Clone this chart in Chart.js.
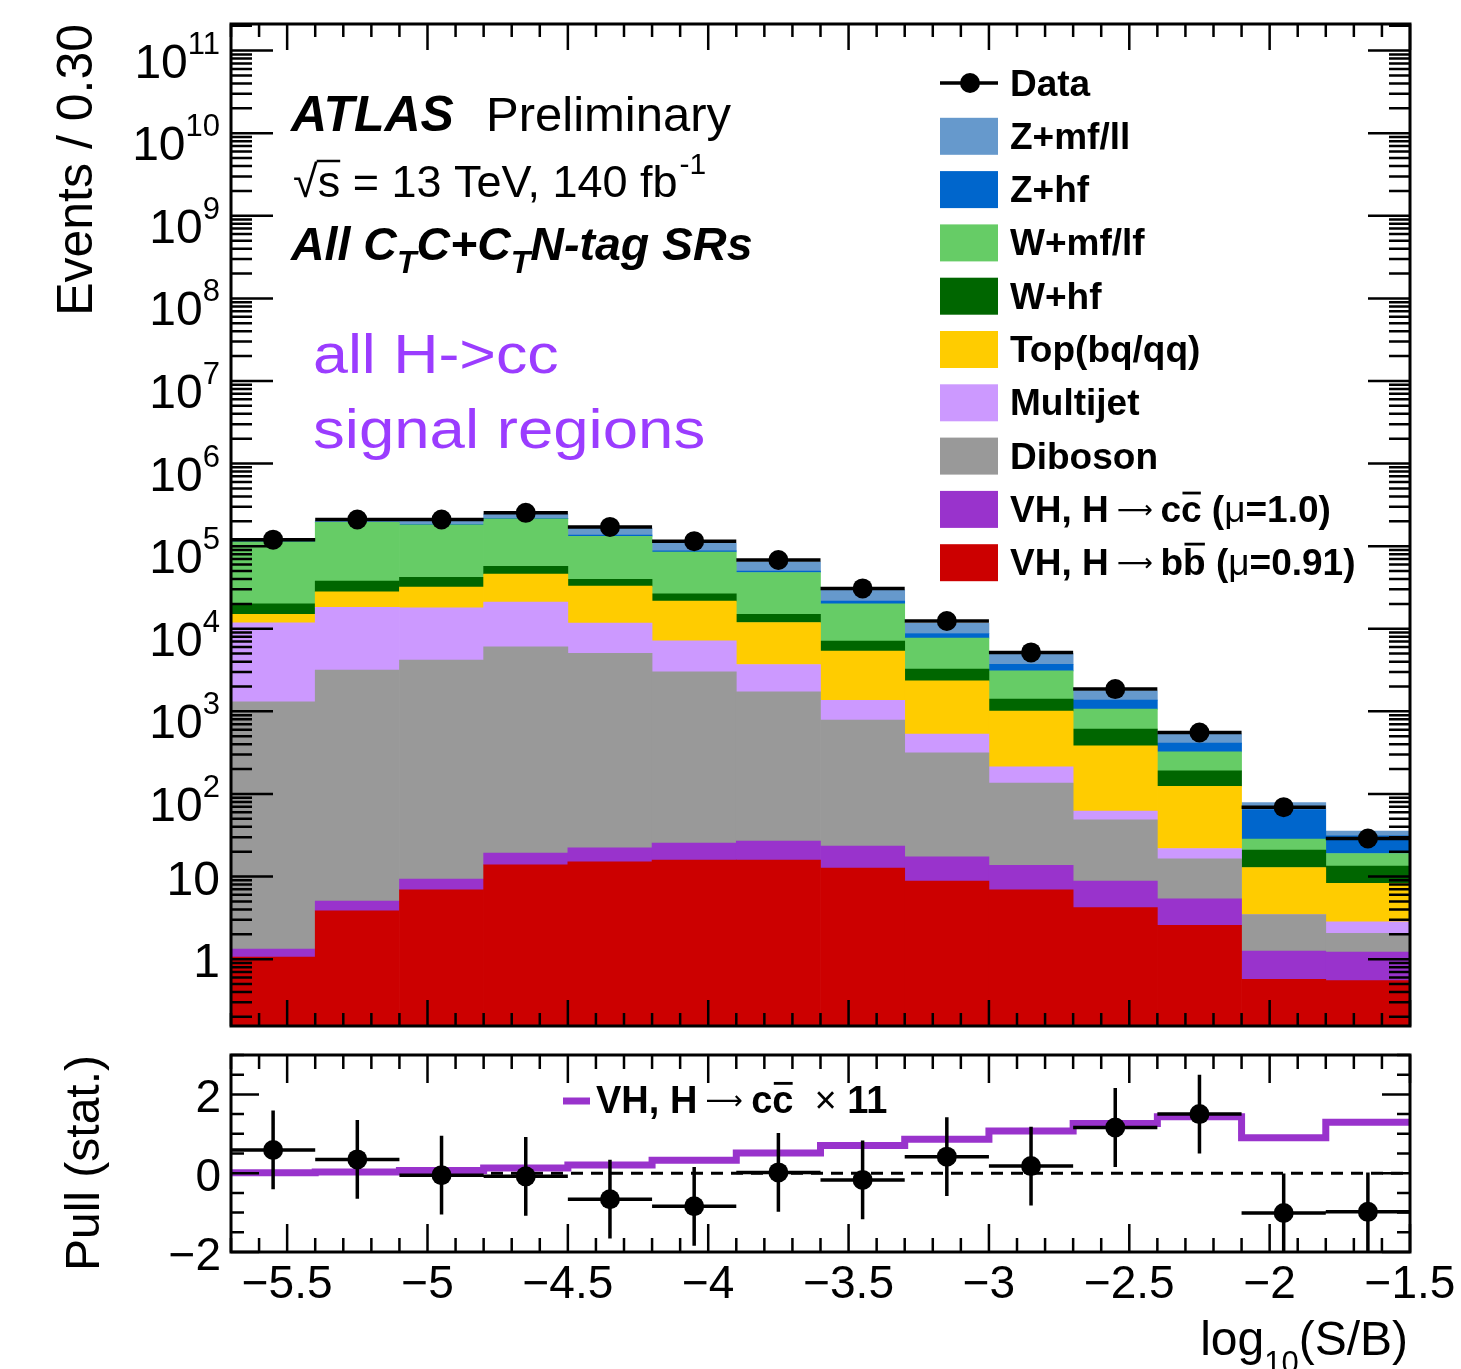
<!DOCTYPE html>
<html><head><meta charset="utf-8">
<script src="https://cdn.jsdelivr.net/npm/chart.js@4.4.1/dist/chart.umd.min.js"></script>
<style>
html,body{margin:0;padding:0;background:#fff;}
#wrap{position:relative;width:1461px;height:1369px;overflow:hidden;background:#fff;}
canvas{position:absolute;left:0;}
#top{top:0;}
#pull{top:1040px;}
</style></head>
<body><div id="wrap"><canvas id="top" width="1461" height="1040"></canvas><canvas id="pull" width="1461" height="329"></canvas></div>
<script>
const F = "'Liberation Sans', Arial, Helvetica, sans-serif";
const FA = "'DejaVu Sans', 'Liberation Sans', sans-serif";

// ---------- data ----------
const binEdges   = [-5.7,-5.4,-5.1,-4.8,-4.5,-4.2,-3.9,-3.6,-3.3,-3.0,-2.7,-2.4,-2.1,-1.8,-1.5];
const binCenters = [-5.55,-5.25,-4.95,-4.65,-4.35,-4.05,-3.75,-3.45,-3.15,-2.85,-2.55,-2.25,-1.95,-1.65];

const vhbb     = [1.06, 3.85, 6.9, 13.9, 15.1, 15.8, 15.8, 12.7, 8.8, 6.9, 4.2, 2.56, 0.57, 0.55];
const vhcc     = [0.26, 1.19, 2.4, 5.3, 7.2, 9.6, 11.0, 10.6, 8.5, 6.8, 4.6, 2.81, 0.68, 0.67];
const diboson  = [1300, 3165, 4160, 6020, 5008, 2975, 1693, 759, 298, 122, 39.8, 11.0, 2.22, 0.83];
const multijet = [10500, 15030, 13730, 14960, 6670, 4140, 1970, 573, 215, 77, 13.4, 5.5, 0, 0.78];
const topq     = [3200, 9800, 14100, 25000, 21100, 14460, 8210, 3995, 1810, 792, 320, 102, 9.4, 5.42];
const whf      = [5000, 9700, 9800, 11000, 7000, 4900, 3100, 1730, 900, 400, 227, 66, 8.0, 5.15];
const wmflf    = [93000, 156300, 139200, 157000, 92200, 58500, 33000, 12920, 4450, 1685, 454, 133, 7.5, 5.6];
const zhf      = [500, 2000, 3000, 4000, 4000, 3000, 1800, 1600, 1080, 630, 304, 89, 36.5, 12.1];
const zmfll    = [2000, 7000, 23000, 26000, 28000, 20000, 14800, 7700, 2830, 1300, 403, 118, 14.0, 4.3];

const dataEvents = [120000, 210000, 210000, 253000, 171000, 115000, 68000, 30800, 12400, 5170, 1860, 555, 69.2, 28.9];

const pullValues    = [0.59, 0.35, -0.05, -0.08, -0.66, -0.84, 0.02, -0.17, 0.42, 0.18, 1.16, 1.50, -1.01, -0.98];
const signalPullX11 = [0.01, 0.03, 0.07, 0.13, 0.21, 0.33, 0.51, 0.70, 0.86, 1.07, 1.26, 1.43, 0.90, 1.29];

const stackSeries = [vhbb, vhcc, diboson, multijet, topq, whf, wmflf, zhf, zmfll];
const stackLabels = ['VH, H → bb̄ (μ=0.91)','VH, H → cc̄ (μ=1.0)','Diboson','Multijet','Top(bq/qq)','W+hf','W+mf/lf','Z+hf','Z+mf/ll'];
const stackColors = ['#cc0000','#9933cc','#999999','#cc99ff','#ffcc00','#006600','#66cc66','#0066cc','#6699cc'];

// ---------- ticks ----------
const xTickValues = [-5.5,-5,-4.5,-4,-3.5,-3,-2.5,-2,-1.5];
const xTickLabels = ['−5.5','−5','−4.5','−4','−3.5','−3','−2.5','−2','−1.5'];
const yTickValues = [1,10,1e2,1e3,1e4,1e5,1e6,1e7,1e8,1e9,1e10,1e11];
const yTickBase   = ['1','10','10','10','10','10','10','10','10','10','10','10'];
const yTickExp    = ['','','2','3','4','5','6','7','8','9','10','11'];
const pullTickValues = [-2,0,2];
const pullTickLabels = ['−2','0','2'];

// ---------- helpers ----------
function minorLinear(a, b, step){ const out=[]; const n=Math.round((b-a)/step); for(let i=0;i<=n;i++) out.push(+(a+i*step).toFixed(6)); return out; }
function minorLog(min, max){ const out=[]; for(let e=-2;e<=12;e++){ for(let m=2;m<=9;m++){ const v=m*Math.pow(10,e); if(v>min&&v<max) out.push(v);} } return out; }

function drawFrameTicks(chart, cfg){
  const {ctx, chartArea:{left,right,top,bottom}, scales:{x,y}} = chart;
  ctx.save();
  ctx.strokeStyle='#000'; ctx.lineCap='butt'; ctx.lineWidth=2.5;
  ctx.beginPath();
  const xt = (v,L)=>{ const p=x.getPixelForValue(v); if(p<left-0.5||p>right+0.5) return; ctx.moveTo(p,bottom); ctx.lineTo(p,bottom-L); ctx.moveTo(p,top); ctx.lineTo(p,top+L); };
  const yt = (v,L)=>{ const p=y.getPixelForValue(v); if(p<top-0.5||p>bottom+0.5) return; ctx.moveTo(left,p); ctx.lineTo(left+L,p); ctx.moveTo(right,p); ctx.lineTo(right-L,p); };
  cfg.xMinor.forEach(v=>xt(v,cfg.xMinL)); cfg.xMajor.forEach(v=>xt(v,cfg.xMajL));
  cfg.yMinor.forEach(v=>yt(v,cfg.yMinL)); cfg.yMajor.forEach(v=>yt(v,cfg.yMajL));
  ctx.stroke();
  ctx.lineWidth=3;
  ctx.strokeRect(left,top,right-left,bottom-top);
  ctx.restore();
}

function rich(ctx, segs, x, y, size, color){
  ctx.save(); ctx.fillStyle=color||'#000'; ctx.strokeStyle=color||'#000'; ctx.textAlign='left'; ctx.textBaseline='alphabetic';
  let cx=x;
  for(const s of segs){
    const sz = s.size||size;
    ctx.font = `${s.it?'italic ':''}${s.reg?'':'bold '}${sz}px ${s.fam||F}`;
    const dy = s.dy||0;
    ctx.fillText(s.t, cx, y+dy);
    const w = ctx.measureText(s.t).width;
    if(s.over){ ctx.lineWidth=Math.max(2,sz*0.075); ctx.beginPath(); const oy=y+dy-sz*(s.overH||0.80); ctx.moveTo(cx+sz*0.04,oy); ctx.lineTo(cx+w-sz*0.02,oy); ctx.stroke(); }
    cx += w;
  }
  ctx.restore();
  return cx-x;
}

// ---------- top panel ----------
let running = vhbb.map(()=>0);
const stackDatasets = stackSeries.map((arr,k)=>{
  const data = arr.map((v,i)=>{ const lo=running[i]; const hi=lo+v; running[i]=hi; return {x:binCenters[i], y:[Math.max(lo,0.1), Math.max(hi,0.1)]}; });
  return {type:'bar', label:stackLabels[k], data, backgroundColor:stackColors[k], borderWidth:0, grouped:false, barPercentage:1, categoryPercentage:1, order:5};
});

const topDecor = {
  id:'topDecor',
  afterDatasetsDraw(chart){
    const {ctx, scales:{x,y}} = chart;
    ctx.save(); ctx.strokeStyle='#000'; ctx.lineWidth=3.5; ctx.beginPath();
    binCenters.forEach((c,i)=>{
      const v=dataEvents[i], e=Math.sqrt(v), py=y.getPixelForValue(v), px=x.getPixelForValue(c);
      ctx.moveTo(x.getPixelForValue(binEdges[i]),py); ctx.lineTo(x.getPixelForValue(binEdges[i+1]),py);
      ctx.moveTo(px,y.getPixelForValue(v+e)); ctx.lineTo(px,y.getPixelForValue(v-e));
    });
    ctx.stroke(); ctx.restore();
  },
  afterDraw(chart){
    const {ctx, scales:{y}} = chart;
    drawFrameTicks(chart,{xMajor:xTickValues, xMinor:minorLinear(-5.7,-1.5,0.1), xMajL:26, xMinL:13,
      yMajor:[0.1].concat(yTickValues), yMinor:minorLog(y.min,y.max), yMajL:42, yMinL:21});
    // y tick labels with superscripts
    ctx.save(); ctx.fillStyle='#000'; ctx.textBaseline='alphabetic'; ctx.textAlign='left';
    yTickValues.forEach((v,i)=>{
      const py=y.getPixelForValue(v), ex=yTickExp[i];
      ctx.font=`48px ${F}`; const bw=ctx.measureText(yTickBase[i]).width;
      let ew=0; if(ex){ ctx.font=`31px ${F}`; ew=ctx.measureText(ex).width; }
      const x0=220-ew-bw;
      ctx.font=`48px ${F}`; ctx.fillText(yTickBase[i], x0, py+(ex?27:18));
      if(ex){ ctx.font=`31px ${F}`; ctx.fillText(ex, x0+bw, py+3); }
    });
    ctx.restore();
    // ATLAS labels
    ctx.save(); ctx.fillStyle='#000'; ctx.textBaseline='alphabetic'; ctx.textAlign='left';
    ctx.font=`italic bold 50px ${F}`; ctx.fillText('ATLAS',291,131);
    ctx.font=`49px ${F}`; ctx.fillText('Preliminary',486,131);
    ctx.font=`45px ${F}`;
    ctx.fillText('√',293,197); const wr=ctx.measureText('√').width;
    const ws=ctx.measureText('s').width;
    ctx.fillText('s = 13 TeV, 140 fb',293+wr,197); const w2=ctx.measureText('s = 13 TeV, 140 fb').width;
    ctx.lineWidth=2.5; ctx.beginPath(); ctx.moveTo(293+wr-1,161); ctx.lineTo(293+wr+ws,161); ctx.stroke();
    ctx.font=`30px ${F}`; ctx.fillText('-1',293+wr+w2+2,174);
    ctx.restore();
    rich(ctx,[{t:'All C',it:1},{t:'T',it:1,size:32,dy:13},{t:'C+C',it:1},{t:'T',it:1,size:32,dy:13},{t:'N-tag SRs',it:1}],291,260,46.5,'#000');
    // purple annotation
    ctx.save(); ctx.fillStyle='#9b3cff'; ctx.font=`56px ${F}`; ctx.textBaseline='alphabetic';
    ctx.translate(313,373); ctx.scale(1.12,1); ctx.fillText('all H->cc',0,0); ctx.restore();
    ctx.save(); ctx.fillStyle='#9b3cff'; ctx.font=`56px ${F}`; ctx.textBaseline='alphabetic';
    ctx.translate(313,448); ctx.scale(1.135,1); ctx.fillText('signal regions',0,0); ctx.restore();
    // legend
    const arrow = {t:' ⟶ ',reg:1,fam:FA,size:25,dy:-4};
    const rows = [
      {data:true, segs:[{t:'Data'}]},
      {color:stackColors[8], segs:[{t:stackLabels[8]}]},
      {color:stackColors[7], segs:[{t:stackLabels[7]}]},
      {color:stackColors[6], segs:[{t:stackLabels[6]}]},
      {color:stackColors[5], segs:[{t:stackLabels[5]}]},
      {color:stackColors[4], segs:[{t:stackLabels[4]}]},
      {color:stackColors[3], segs:[{t:stackLabels[3]}]},
      {color:stackColors[2], segs:[{t:stackLabels[2]}]},
      {color:stackColors[1], segs:[{t:'VH, H'},arrow,{t:'c'},{t:'c',over:1,overH:0.78},{t:' ('},{t:'μ',reg:1},{t:'=1.0)'}]},
      {color:stackColors[0], segs:[{t:'VH, H'},arrow,{t:'b'},{t:'b',over:1,overH:0.84},{t:' ('},{t:'μ',reg:1},{t:'=0.91)'}]}
    ];
    rows.forEach((r,i)=>{
      const cy=83+53.3*i;
      if(r.data){
        ctx.save(); ctx.strokeStyle='#000'; ctx.lineWidth=3.5; ctx.beginPath(); ctx.moveTo(940,cy); ctx.lineTo(998,cy); ctx.stroke();
        ctx.fillStyle='#000'; ctx.beginPath(); ctx.arc(970,cy,10,0,Math.PI*2); ctx.fill(); ctx.restore();
      } else {
        ctx.fillStyle=r.color; ctx.fillRect(940,cy-18.5,58,37);
      }
      rich(ctx,r.segs,1010,cy+12.5,37,'#000');
    });
  }
};

new Chart(document.getElementById('top'),{
  type:'bar',
  data:{datasets:[...stackDatasets,
    {type:'scatter', label:'Data', data:binCenters.map((x,i)=>({x, y:dataEvents[i]})), pointRadius:10, pointHoverRadius:10, pointBackgroundColor:'#000', pointBorderWidth:0, order:0}]},
  options:{
    responsive:false, animation:false, devicePixelRatio:1,
    layout:{padding:{left:0,right:51,top:24,bottom:14}},
    plugins:{legend:{display:false}, tooltip:{enabled:false}},
    scales:{
      x:{type:'linear', min:-5.7, max:-1.5, display:false, offset:false,
         afterBuildTicks(s){ s.ticks = binEdges.map(v=>({value:v})); }},
      y:{type:'logarithmic', min:0.155, max:2.1e11,
         ticks:{display:false}, grid:{display:false, drawTicks:false}, border:{display:false},
         title:{display:true, text:'Events / 0.30', align:'end', color:'#000', font:{family:F, size:50}, padding:{top:48,bottom:0}},
         afterFit(s){ s.width=231; s.paddingTop=0; s.paddingBottom=0; }}
    }
  },
  plugins:[topDecor]
});

// ---------- pull panel ----------
const stepPoints = binEdges.map((e,i)=>({x:e, y:signalPullX11[Math.min(i,signalPullX11.length-1)]}));

const pullDecor = {
  id:'pullDecor',
  beforeDatasetsDraw(chart){
    const {ctx, chartArea:{left,right}, scales:{y}} = chart;
    const py=y.getPixelForValue(0);
    ctx.save(); ctx.strokeStyle='#000'; ctx.lineWidth=3; ctx.setLineDash([12,8]);
    ctx.beginPath(); ctx.moveTo(left,py); ctx.lineTo(right,py); ctx.stroke(); ctx.restore();
  },
  afterDatasetsDraw(chart){
    const {ctx, scales:{x,y}} = chart;
    ctx.save(); ctx.strokeStyle='#000'; ctx.lineWidth=3.5; ctx.beginPath();
    binCenters.forEach((c,i)=>{
      const v=pullValues[i], py=y.getPixelForValue(v), px=x.getPixelForValue(c);
      ctx.moveTo(x.getPixelForValue(binEdges[i]),py); ctx.lineTo(x.getPixelForValue(binEdges[i+1]),py);
      ctx.moveTo(px,y.getPixelForValue(v+1)); ctx.lineTo(px,y.getPixelForValue(v-1));
    });
    ctx.stroke();
    ctx.fillStyle='#000';
    binCenters.forEach((c,i)=>{ ctx.beginPath(); ctx.arc(x.getPixelForValue(c), y.getPixelForValue(pullValues[i]), 10, 0, Math.PI*2); ctx.fill(); });
    ctx.restore();
  },
  afterDraw(chart){
    const {ctx} = chart;
    drawFrameTicks(chart,{xMajor:xTickValues, xMinor:minorLinear(-5.7,-1.5,0.1), xMajL:28, xMinL:14,
      yMajor:pullTickValues, yMinor:minorLinear(-2,3,0.5), yMajL:28, yMinL:13});
    // legend
    ctx.save(); ctx.strokeStyle='#9933cc'; ctx.lineWidth=7; ctx.beginPath(); ctx.moveTo(563,61); ctx.lineTo(590,61); ctx.stroke(); ctx.restore();
    rich(ctx,[{t:'VH, H'},{t:' ⟶ ',reg:1,fam:FA,size:26,dy:-4},{t:'c'},{t:'c',over:1,overH:0.78},{t:'  '},{t:'×',reg:1},{t:' 11'}],596,73,38,'#000');
    // x title with subscript
    ctx.save(); ctx.fillStyle='#000'; ctx.textBaseline='alphabetic'; ctx.textAlign='left';
    ctx.font=`48px ${F}`; const w1=ctx.measureText('log').width, w3=ctx.measureText('(S/B)').width;
    ctx.font=`31px ${F}`; const w2=ctx.measureText('10').width;
    const x0=1408-w1-w2-w3;
    ctx.font=`48px ${F}`; ctx.fillText('log',x0,315); ctx.fillText('(S/B)',x0+w1+w2,315);
    ctx.font=`31px ${F}`; ctx.fillText('10',x0+w1,333);
    ctx.restore();
  }
};

new Chart(document.getElementById('pull'),{
  type:'scatter',
  data:{datasets:[
    {type:'line', label:'VH, H → cc̄ × 11', data:stepPoints, stepped:'before', borderColor:'#9933cc', borderWidth:7, pointRadius:0, pointHoverRadius:0, fill:false, order:2},
    {type:'scatter', label:'Pull', data:binCenters.map((x,i)=>({x, y:pullValues[i]})), pointRadius:0, pointHoverRadius:0, order:0}
  ]},
  options:{
    responsive:false, animation:false, devicePixelRatio:1,
    layout:{padding:{left:0,right:51,top:15,bottom:0}},
    plugins:{legend:{display:false}, tooltip:{enabled:false}},
    scales:{
      x:{type:'linear', min:-5.7, max:-1.5,
         afterBuildTicks(s){ s.ticks = xTickValues.map(v=>({value:v})); },
         ticks:{autoSkip:false, maxRotation:0, padding:6, color:'#000', font:{family:F, size:46},
                callback:(v,i)=>xTickLabels[i]},
         grid:{display:false, drawTicks:false}, border:{display:false},
         afterFit(s){ s.height=117; s.paddingLeft=0; s.paddingRight=0; }},
      y:{type:'linear', min:-2, max:3,
         afterBuildTicks(s){ s.ticks = pullTickValues.map(v=>({value:v})); },
         ticks:{autoSkip:false, padding:10, labelOffset:5, color:'#000', font:{family:F, size:46},
                callback:(v,i)=>pullTickLabels[i]},
         grid:{display:false, drawTicks:false}, border:{display:false},
         title:{display:true, text:'Pull (stat.)', align:'end', color:'#000', font:{family:F, size:48}, padding:{top:57,bottom:0}},
         afterFit(s){ s.width=231; s.paddingTop=0; s.paddingBottom=0; }}
    }
  },
  plugins:[pullDecor]
});
</script>
</body></html>
